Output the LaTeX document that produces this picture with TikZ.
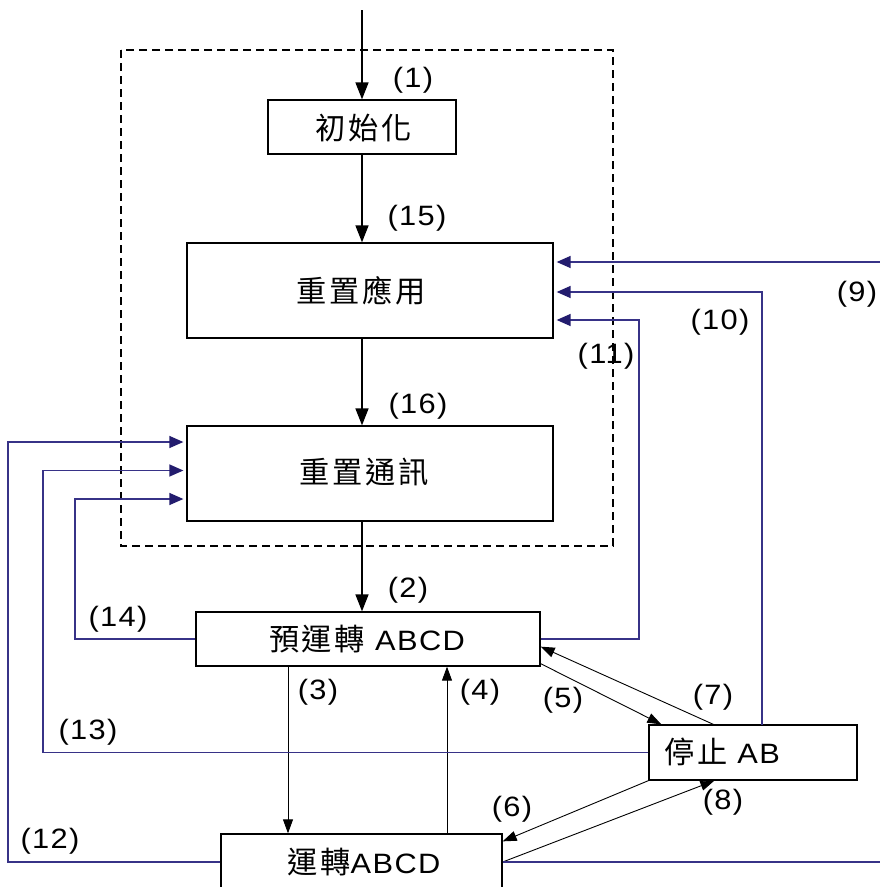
\documentclass[tikz,border=0pt]{standalone}
\usepackage{fontspec}
\setmainfont{Liberation Sans}[FakeStretch=1.1,LetterSpace=5]
\newfontfamily\cjk{Noto Sans CJK TC}[Scale=1.08,LetterSpace=9]
\usetikzlibrary{arrows.meta,calc}
\definecolor{navyline}{RGB}{55,50,135}
\definecolor{navytip}{RGB}{35,28,110}
\begin{document}
\begin{tikzpicture}[x=1pt,y=-1pt,
  box/.style={draw, line width=1.3pt, inner sep=0pt},
  btext/.style={inner sep=0pt, font=\fontsize{28}{30}\selectfont},
  blk/.style={line width=1.5pt, -{Triangle[length=17pt,width=13pt]}},
  thinarr/.style={line width=0.9pt, -{Triangle[length=14pt,width=10pt]}},
  blu/.style={draw=navyline, line width=1.4pt},
  bluarr/.style={blu, -{Triangle[length=14pt,width=12pt,color=navytip,fill=navytip]}, shorten >=3pt},
  lbl/.style={font=\fontsize{28}{30}\selectfont, inner sep=0pt}]
\useasboundingbox (0,0) rectangle (880,887);
\clip (0,0) rectangle (880,887);
\fill[white] (0,0) rectangle (880,887);

% dashed frame
\draw[line width=1.2pt, dash pattern=on 8pt off 5pt] (121,50) rectangle (613,546);

% boxes
\node[box, minimum width=188pt, minimum height=54pt] (init) at (362,127) {};
\node[box, minimum width=366pt, minimum height=95pt] (app) at (370,290.5) {};
\node[box, minimum width=366pt, minimum height=95pt] (comm) at (370,473.5) {};
\node[box, minimum width=344pt, minimum height=54pt] (pre) at (368,639) {};
\node[box, minimum width=208pt, minimum height=55pt] (stop) at (753,752.5) {};
\node[box, minimum width=281pt, minimum height=56pt] (run) at (361.5,862) {};

% box texts
\node[btext] (initT) at (364,128) {\cjk 初始化};
\node[btext] (appT) at (361,291) {\cjk 重置應用};
\node[btext] (commT) at (364,472) {\cjk 重置通訊};
\node[btext] (preT) at (367,639) {{\cjk 預運轉} ABCD};
\node[btext] (stopT) at (722,752) {{\cjk 停止} AB};
\node[btext] (runT) at (364,862) {{\cjk 運轉}ABCD};

% black main arrows
\coordinate (entry) at (362,10);
\draw[blk] (entry) -- (init.north);
\draw[blk] (init.south) -- (init.south |- app.north);
\draw[blk] (init.south |- app.south) -- (init.south |- comm.north);
\draw[blk] (init.south |- comm.south) -- (init.south |- pre.north);

% thin arrows
\coordinate (a3) at ($(pre.south)+(-80,0)$);
\coordinate (a4) at ($(pre.south)+(79,0)$);
\draw[thinarr] (a3) -- (a3 |- run.north);
\draw[thinarr] (a4 |- run.north) -- (a4);
\draw[thinarr] ($(pre.south east)+(0,-3)$) -- ($(stop.north west)+(13,0)$);
\draw[thinarr] ($(stop.north west)+(65,0)$) -- ($(pre.south east)+(0,-20)$);
\draw[thinarr] (stop.south west) -- ($(run.north east)+(0,8)$);
\draw[thinarr] (run.east) -- ($(stop.south west)+(66,0)$);

% blue feedback lines
\coordinate (c9) at (900,862);
\draw[bluarr] (run.east) -- (c9) |- ($(app.east)+(0,-28.5)$);
\coordinate (c10) at (762,725);
\draw[bluarr] (c10) |- ($(app.east)+(0,1.5)$);
\coordinate (c11) at (639,639);
\draw[bluarr] (pre.east) -- (c11) |- ($(app.east)+(0,29.5)$);
\coordinate (c12) at (8,862);
\draw[bluarr] (run.west) -- (c12) |- ($(comm.west)+(0,-31.5)$);
\coordinate (c13) at (43,752.5);
\draw[bluarr] (stop.west) -- (c13) |- ($(comm.west)+(0,-3)$);
\coordinate (c14) at (75,639);
\draw[bluarr] (pre.west) -- (c14) |- ($(comm.west)+(0,25.5)$);

% labels
\node[lbl] (l1) at (413,80) {(1)};
\node[lbl] (l15) at (417,218) {(15)};
\node[lbl] (l16) at (418,406) {(16)};
\node[lbl] (l2) at (408,590) {(2)};
\node[lbl] (l3) at (318,692) {(3)};
\node[lbl] (l4) at (480,692) {(4)};
\node[lbl] (l5) at (563,700) {(5)};
\node[lbl] (l7) at (713,697) {(7)};
\node[lbl] (l6) at (512,809) {(6)};
\node[lbl] (l8) at (723,802) {(8)};
\node[lbl] (l9) at (857,294) {(9)};
\node[lbl] (l10) at (720,322) {(10)};
\node[lbl] (l11) at (606,356) {(11)};
\node[lbl] (l12) at (50,841) {(12)};
\node[lbl] (l13) at (88,732) {(13)};
\node[lbl] (l14) at (118,619) {(14)};
\end{tikzpicture}
\end{document}
